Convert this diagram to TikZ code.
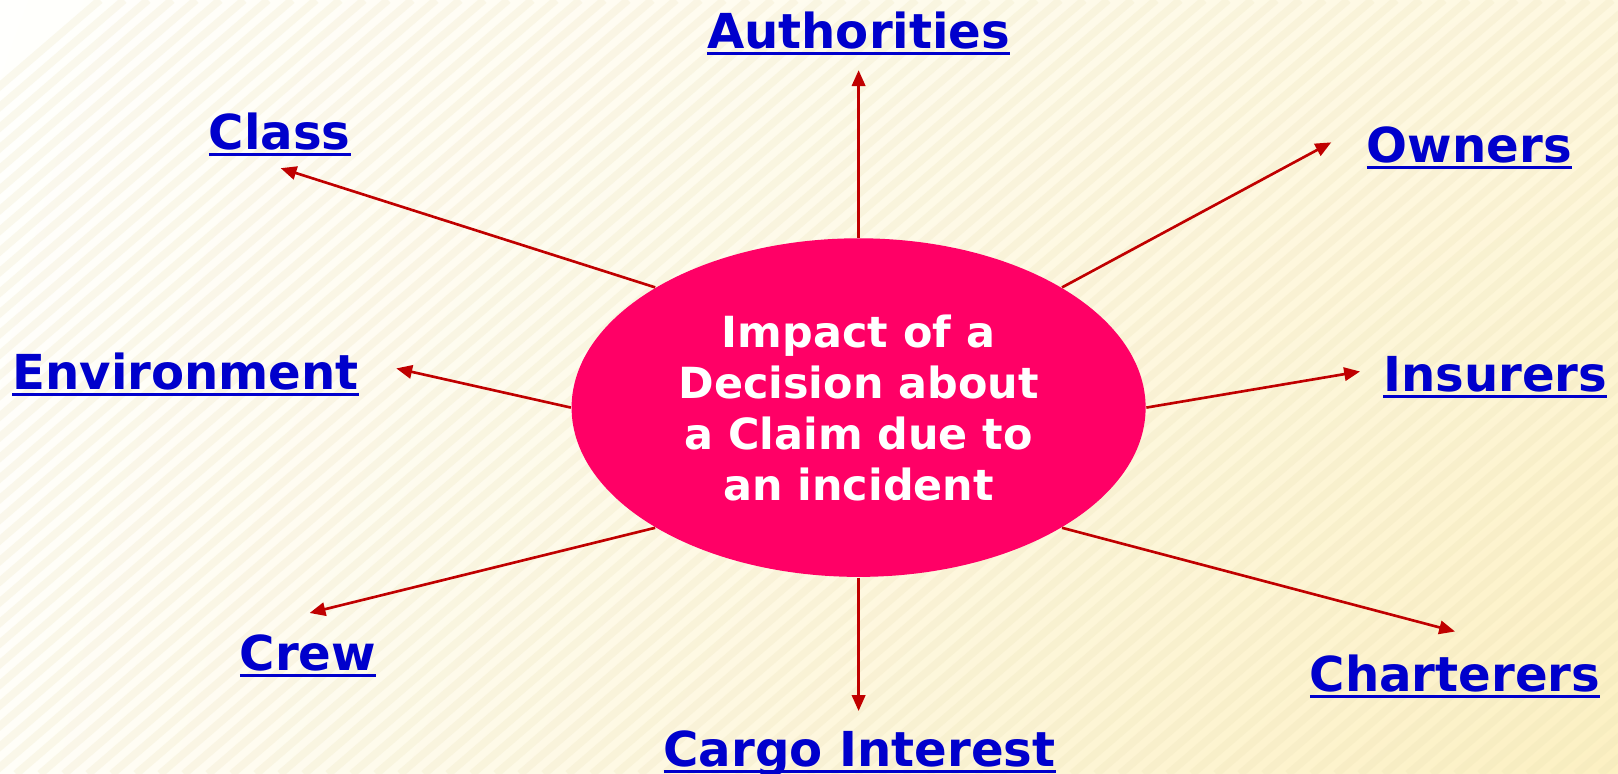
\documentclass[tikz,border=0pt]{standalone}
\usepackage{fontspec}
\setmainfont{DejaVu Sans}
\usetikzlibrary{arrows.meta,shapes.geometric,shadings}
\definecolor{bgUL}{HTML}{FFFFFD}
\definecolor{bgUR}{HTML}{FEF8E0}
\definecolor{bgLL}{HTML}{FFFEF8}
\definecolor{bgLR}{HTML}{FCF0C2}
\definecolor{stripe}{HTML}{E6DDB0}
\definecolor{hub}{HTML}{FF0066}
\definecolor{lblblue}{HTML}{0000CC}
\definecolor{arrred}{HTML}{C00000}
\newcommand\myul[1]{\leavevmode\setbox0\hbox{#1}\rlap{\rule[-0.13em]{\wd0}{0.065em}}\box0}
\tikzset{
  lbl/.style={anchor=base, inner sep=0pt, text=lblblue, font=\fontsize{13.7pt}{16pt}\selectfont\bfseries},
  hubnode/.style={ellipse, fill=hub, draw=none, inner sep=0pt, minimum width=5.737cm, minimum height=3.384cm,
    text=white, align=center, font=\fontsize{12.2pt}{14.5pt}\selectfont\bfseries},
  arr/.style={draw=arrred, line width=0.75pt, -{Triangle[length=4.5pt,width=3.8pt]}}
}
\begin{document}
\begin{tikzpicture}[x=0.01cm,y=-0.01cm]
\useasboundingbox (0,0) rectangle (1618,774);
\shade[upper left=bgUL, upper right=bgUR, lower left=bgLL, lower right=bgLR] (0,0) rectangle (1618,774);
\begin{scope}
  \clip (0,0) rectangle (1618,774);
  \foreach \i in {-800,-776,...,1620}
    \draw[stripe, opacity=0.2, line width=2.2pt] (\i,774) -- ++(900,-774);
\end{scope}

\node[hubnode] (e) at (858.6,407.6) {\raisebox{-3pt}{}Impact of a\\Decision about\\a Claim due to\\an incident};

\node[lbl] (auth) at (858.6,48.5) {\myul{Authorities}};
\node[lbl] (class) at (279.7,149.6) {\myul{Class}};
\node[lbl] (own) at (1469.4,163) {\myul{Owners}};
\node[lbl] (env) at (185.7,390) {\myul{Environment}};
\node[lbl] (ins) at (1495.2,392) {\myul{Insurers}};
\node[lbl] (crew) at (308,670.5) {\myul{Crew}};
\node[lbl] (chart) at (1455,691.5) {\myul{Charterers}};
\node[lbl] (cargo) at (859.6,766.5) {\myul{Cargo Interest}};

\coordinate (tauth) at (858.6,70.2);
\coordinate (tclass) at (280.7,168.2);
\coordinate (town) at (1331.2,142.4);
\coordinate (tenv) at (396.3,368.4);
\coordinate (tins) at (1360,371.5);
\coordinate (tcrew) at (309.6,613);
\coordinate (tchart) at (1455,631.5);
\coordinate (tcargo) at (858.6,711);

\draw[arr] (e.north) -- (tauth);
\draw[arr] (e.north west) -- (tclass);
\draw[arr] (e.north east) -- (town);
\draw[arr] (e.west) -- (tenv);
\draw[arr] (e.east) -- (tins);
\draw[arr] (e.south west) -- (tcrew);
\draw[arr] (e.south east) -- (tchart);
\draw[arr] (e.south) -- (tcargo);
\end{tikzpicture}
\end{document}
